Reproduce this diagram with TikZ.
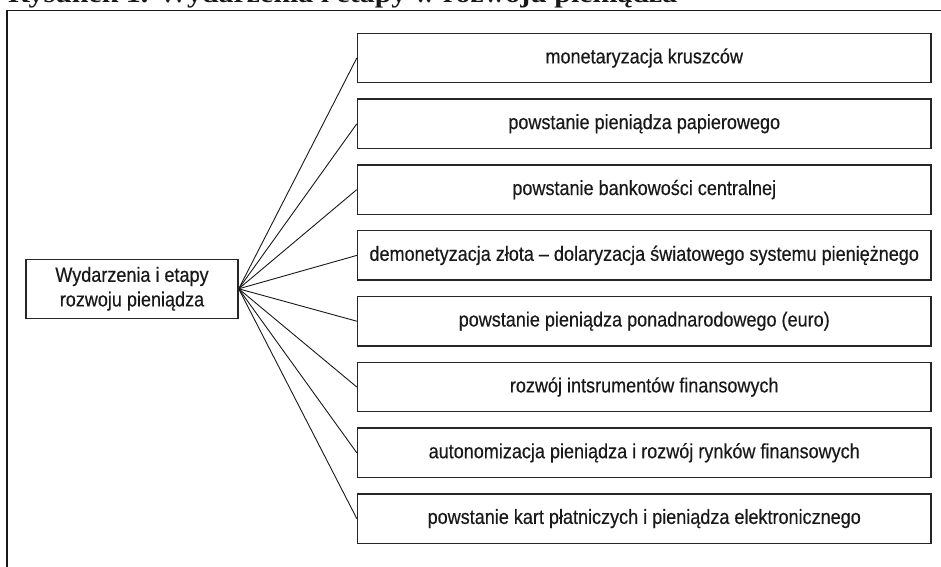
\documentclass[tikz,border=0pt]{standalone}
\usepackage{fontspec}
\setmainfont[FakeStretch=0.88, FakeBold=0.4]{Liberation Sans}
\newfontfamily\titlefont[FakeStretch=1.15]{Liberation Serif}
\usetikzlibrary{positioning}
\tikzset{
    every node/.style={font=\fontsize{20.5}{24.6}\selectfont, text=black!90}, % text of all boxes
    stage/.style={draw=black!85, line width=1.4pt, minimum width=573.5pt, minimum height=49.5pt, inner sep=0pt}, % boxes on the right
    node distance=65.8pt, % distance between the boxes on the right
}
\begin{document}
\begin{tikzpicture}[x=1pt, y=1pt]
    \useasboundingbox (0,0) rectangle (941,566);
    \node[anchor=base west, inner sep=0pt, font=\titlefont\bfseries\fontsize{26}{30}\selectfont] (title) at (8,563.5) {Rysunek 1. Wydarzenia i etapy w rozwoju pieniądza};
    \draw[line width=1.4pt, black!90] (950,555.5) -- (7,555.5) -- (7,-10);
    \node[draw=black!85, line width=1.4pt, align=center, minimum width=212pt, minimum height=59pt] (root) at (132,277.2) {Wydarzenia i etapy\\rozwoju pieniądza};
    \node[stage] (e1) at (644.25,508) {monetaryzacja kruszców};
    \node[stage, below of=e1] (e2) {powstanie pieniądza papierowego};
    \node[stage, below of=e2] (e3) {powstanie bankowości centralnej};
    \node[stage, below of=e3] (e4) {demonetyzacja złota -- dolaryzacja światowego systemu pieniężnego};
    \node[stage, below of=e4] (e5) {powstanie pieniądza ponadnarodowego (euro)};
    \node[stage, below of=e5] (e6) {rozwój intsrumentów finansowych};
    \node[stage, below of=e6] (e7) {autonomizacja pieniądza i rozwój rynków finansowych};
    \node[stage, below of=e7] (e8) {powstanie kart płatniczych i pieniądza elektronicznego};
    \draw[line width=0.9pt, black!90]
    (root.east) edge (e1.west)
    (root.east) edge (e2.west)
    (root.east) edge (e3.west)
    (root.east) edge (e4.west)
    (root.east) edge (e5.west)
    (root.east) edge (e6.west)
    (root.east) edge (e7.west)
    (root.east) edge (e8.west);
\end{tikzpicture}
\end{document}
